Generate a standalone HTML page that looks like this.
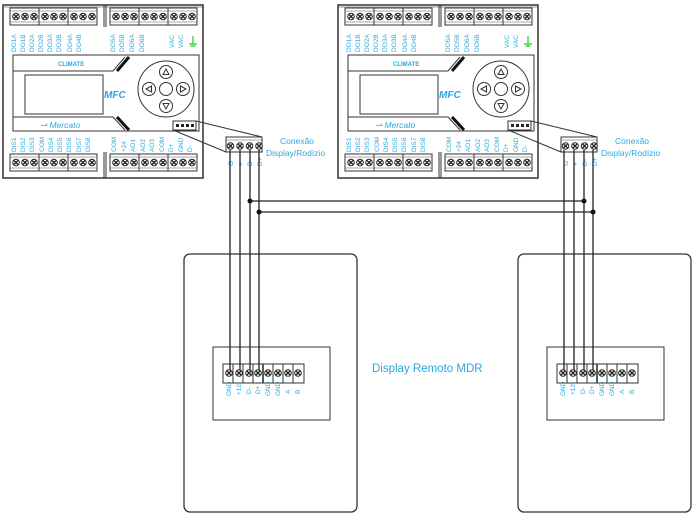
<!DOCTYPE html>
<html><head><meta charset="utf-8"><style>
html,body{margin:0;padding:0;background:#fff;}
svg{display:block;font-family:"Liberation Sans",sans-serif;}
.b{fill:#29a8e0;font-size:6.5px;}
</style></head><body>
<svg width="694" height="515" viewBox="0 0 694 515" xmlns="http://www.w3.org/2000/svg">
<defs>
<g id="scr"><circle r="3.3" fill="#fff" stroke="#222" stroke-width="1"/><path d="M-2,-2L2,2M-2,2L2,-2" stroke="#222" stroke-width="1.3"/></g>
<g id="blk">
<rect x="0" y="0" width="87" height="17" fill="#fff" stroke="#333" stroke-width="1"/>
<line x1="29" y1="0" x2="29" y2="17" stroke="#333"/><line x1="58" y1="0" x2="58" y2="17" stroke="#333"/>
<line x1="0" y1="3" x2="87" y2="3" stroke="#555" stroke-width="0.6"/>
<line x1="0" y1="14" x2="87" y2="14" stroke="#555" stroke-width="0.6"/>
<use href="#scr" x="6" y="8.5"/><use href="#scr" x="15" y="8.5"/><use href="#scr" x="24" y="8.5"/>
<use href="#scr" x="35" y="8.5"/><use href="#scr" x="44" y="8.5"/><use href="#scr" x="53" y="8.5"/>
<use href="#scr" x="64" y="8.5"/><use href="#scr" x="73" y="8.5"/><use href="#scr" x="82" y="8.5"/>
</g>
<g id="ctrl">
<rect x="3" y="5" width="200" height="173" fill="#fff" stroke="#333" stroke-width="1.5"/>
<line x1="3" y1="7" x2="203" y2="7" stroke="#333" stroke-width="0.6"/>
<line x1="104" y1="5" x2="104" y2="27" stroke="#333"/>
<line x1="106" y1="5" x2="106" y2="27" stroke="#333"/>
<line x1="104" y1="152" x2="104" y2="178" stroke="#333"/>
<line x1="106" y1="152" x2="106" y2="178" stroke="#333"/>
<use href="#blk" x="10" y="8"/><use href="#blk" x="110" y="8"/>
<use href="#blk" x="10" y="154"/><use href="#blk" x="110" y="154"/>
<g class="b">
<text transform="translate(16,52) rotate(-90)">DO1A</text>
<text transform="translate(25,52) rotate(-90)">DO1B</text>
<text transform="translate(34,52) rotate(-90)">DO2A</text>
<text transform="translate(43,52) rotate(-90)">DO2B</text>
<text transform="translate(52,52) rotate(-90)">DO3A</text>
<text transform="translate(61,52) rotate(-90)">DO3B</text>
<text transform="translate(72,52) rotate(-90)">DO4A</text>
<text transform="translate(81,52) rotate(-90)">DO4B</text>
<text transform="translate(115,52) rotate(-90)">DO5A</text>
<text transform="translate(124,52) rotate(-90)">DO5B</text>
<text transform="translate(134,52) rotate(-90)">DO6A</text>
<text transform="translate(144,52) rotate(-90)">DO6B</text>
<text transform="translate(174,48) rotate(-90)">VAC</text>
<text transform="translate(183,48) rotate(-90)">VAC</text>
<text transform="translate(16,152) rotate(-90)">DIS1</text>
<text transform="translate(25,152) rotate(-90)">DIS2</text>
<text transform="translate(34,152) rotate(-90)">DIS3</text>
<text transform="translate(44,152) rotate(-90)">COM</text>
<text transform="translate(53,152) rotate(-90)">DIS4</text>
<text transform="translate(62,152) rotate(-90)">DIS5</text>
<text transform="translate(71,152) rotate(-90)">DIS6</text>
<text transform="translate(81,152) rotate(-90)">DIS7</text>
<text transform="translate(90,152) rotate(-90)">DIS8</text>
<text transform="translate(116,152) rotate(-90)">COM</text>
<text transform="translate(126,152) rotate(-90)">+24</text>
<text transform="translate(135,152) rotate(-90)">AO1</text>
<text transform="translate(145,152) rotate(-90)">AO2</text>
<text transform="translate(154,152) rotate(-90)">AO3</text>
<text transform="translate(164,152) rotate(-90)">COM</text>
<text transform="translate(173,152) rotate(-90)">D+</text>
<text transform="translate(183,152) rotate(-90)">GND</text>
<text transform="translate(192,152) rotate(-90)">D-</text>
</g>
<path d="M193,36V44M189,44H197M190.5,46H195.5" stroke="#2c2" stroke-width="1.2" fill="none"/>
<rect x="13" y="55" width="186" height="76" fill="#fff" stroke="#333" stroke-width="1"/>
<path d="M13,71H113L125,57" fill="none" stroke="#333"/>
<path d="M117,71L129,57" stroke="#111" stroke-width="3"/>
<path d="M13,117H113L125,130" fill="none" stroke="#333"/>
<path d="M117,117L129,130" stroke="#111" stroke-width="3"/>
<text x="58" y="66" fill="#29a8e0" font-size="6" font-weight="bold">CLIMATE</text>
<text x="40" y="128" fill="#29a8e0" font-size="8.5" font-style="italic">⇀ Mercato</text>
<rect x="25" y="75" width="78" height="39" fill="#fff" stroke="#333"/>
<text x="104" y="98" fill="#29a8e0" font-size="10" font-weight="bold" font-style="italic">MFC</text>
<circle cx="166" cy="89" r="28" fill="#fff" stroke="#333"/>
<circle cx="166" cy="89" r="6.5" fill="#fff" stroke="#333"/>
<circle cx="166" cy="72" r="6.5" fill="#fff" stroke="#333"/><path d="M163,74.5L166,69L169,74.5Z" fill="none" stroke="#333"/>
<circle cx="166" cy="106" r="6.5" fill="#fff" stroke="#333"/><path d="M163,103.5L166,109L169,103.5Z" fill="none" stroke="#333"/>
<circle cx="149" cy="89" r="6.5" fill="#fff" stroke="#333"/><path d="M151.5,86L146,89L151.5,92Z" fill="none" stroke="#333"/>
<circle cx="183" cy="89" r="6.5" fill="#fff" stroke="#333"/><path d="M180.5,86L186,89L180.5,92Z" fill="none" stroke="#333"/>
<rect x="173" y="121" width="23" height="9" fill="#fff" stroke="#333"/>
<rect x="176" y="124" width="3" height="3" fill="#222"/><rect x="181" y="124" width="3" height="3" fill="#222"/><rect x="186" y="124" width="3" height="3" fill="#222"/><rect x="191" y="124" width="3" height="3" fill="#222"/>
<line x1="196" y1="121" x2="262" y2="137" stroke="#333"/>
<line x1="173" y1="130" x2="226" y2="152" stroke="#333"/>
<rect x="226" y="137" width="36" height="15" fill="#fff" stroke="#333"/>
<line x1="226" y1="140" x2="262" y2="140" stroke="#555" stroke-width="0.6"/>
<use href="#scr" x="230.5" y="146"/><use href="#scr" x="240" y="146"/><use href="#scr" x="249.5" y="146"/><use href="#scr" x="259" y="146"/>
<g class="b" font-size="6"><text transform="translate(233,166) rotate(-90)">G</text><text transform="translate(243,166) rotate(-90)">+</text><text transform="translate(252,166) rotate(-90)">D-</text><text transform="translate(262,166) rotate(-90)">D+</text></g>
<text x="280" y="144" fill="#29a8e0" font-size="8.5">Conexão</text>
<text x="266" y="156" fill="#29a8e0" font-size="8.5">Display/Rodízio</text>
</g>
<g id="disp">
<rect x="184" y="254" width="173" height="258" rx="6" fill="#fff" stroke="#333" stroke-width="1.3"/>
<rect x="213" y="347" width="117" height="73" fill="#fff" stroke="#333"/>
<rect x="223" y="364" width="81" height="19" fill="#fff" stroke="#333"/>
<g stroke="#333"><line x1="233" y1="364" x2="233" y2="383"/><line x1="243" y1="364" x2="243" y2="383"/><line x1="253" y1="364" x2="253" y2="383"/><line x1="263" y1="364" x2="263" y2="383" stroke-width="1.6"/><line x1="273" y1="364" x2="273" y2="383"/><line x1="283" y1="364" x2="283" y2="383"/><line x1="293" y1="364" x2="293" y2="383"/></g>
<use href="#scr" x="229" y="373"/><use href="#scr" x="239" y="373"/><use href="#scr" x="249" y="373"/><use href="#scr" x="258" y="373"/>
<use href="#scr" x="268" y="373"/><use href="#scr" x="278" y="373"/><use href="#scr" x="288" y="373"/><use href="#scr" x="298" y="373"/>
<g class="b" font-size="4.5"><text transform="translate(231,396) rotate(-90)">GND</text><text transform="translate(241,395) rotate(-90)">+12</text><text transform="translate(251,394) rotate(-90)">D-</text><text transform="translate(260,394) rotate(-90)">D+</text><text transform="translate(270,396) rotate(-90)">GND</text><text transform="translate(280,396) rotate(-90)">GND</text><text transform="translate(290,394) rotate(-90)">A</text><text transform="translate(300,394) rotate(-90)">B</text></g>
</g>
</defs>
<use href="#ctrl"/>
<use href="#ctrl" x="335"/>
<use href="#disp"/>
<use href="#disp" x="334"/>
<g stroke="#222" stroke-width="1.3">
<line x1="230" y1="150" x2="230" y2="370"/><line x1="240" y1="150" x2="240" y2="370"/><line x1="250" y1="150" x2="250" y2="370"/><line x1="259" y1="150" x2="259" y2="370"/>
<line x1="564" y1="150" x2="564" y2="370"/><line x1="574" y1="150" x2="574" y2="370"/><line x1="584" y1="150" x2="584" y2="370"/><line x1="593" y1="150" x2="593" y2="370"/>
<line x1="250" y1="201" x2="584" y2="201"/><line x1="259" y1="212" x2="593" y2="212"/>
</g>
<g fill="#111"><circle cx="250" cy="201" r="2.5"/><circle cx="259" cy="212" r="2.5"/><circle cx="584" cy="201" r="2.5"/><circle cx="593" cy="212" r="2.5"/></g>
<text x="372" y="372" fill="#29a8e0" font-size="11.5">Display Remoto MDR</text>
</svg>
</body></html>
